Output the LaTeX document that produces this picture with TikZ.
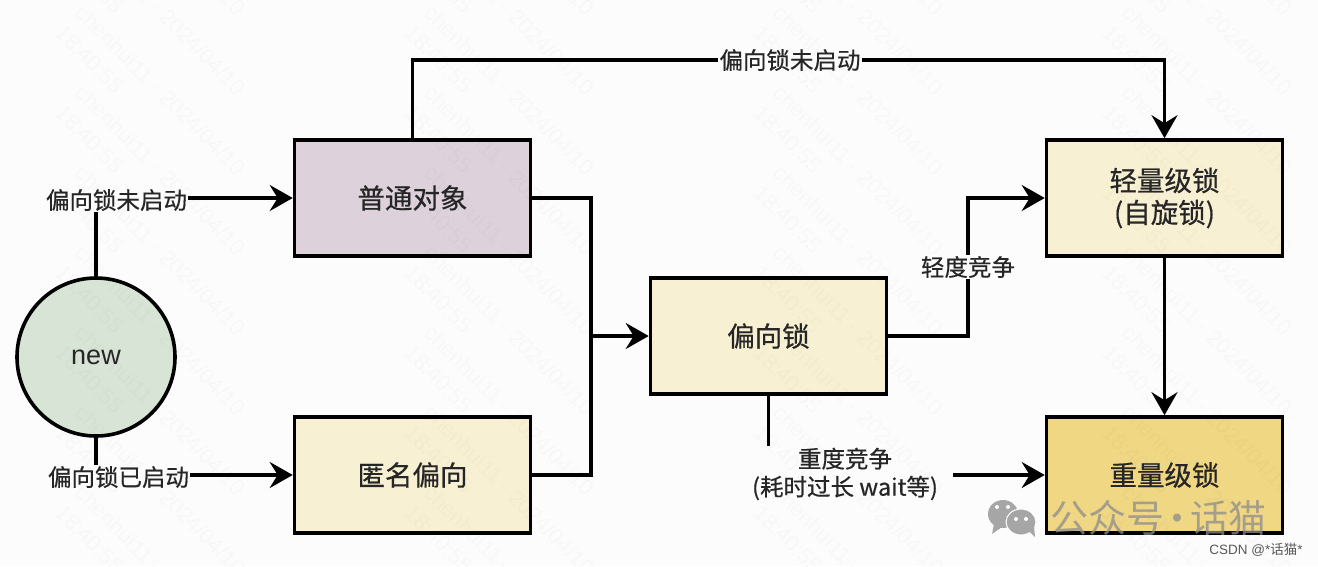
\documentclass[tikz,border=0pt]{standalone}
\usepackage{fontspec}
\setmainfont{Liberation Sans}
\newfontfamily\cjk[FakeBold=0.5]{Noto Sans CJK SC}
\newfontfamily\cjkthin{Noto Sans CJK SC}
\usepackage{tikz}
\usetikzlibrary{arrows.meta}
\definecolor{boxyellow}{HTML}{F8F0D2}
\definecolor{boxpurple}{HTML}{DDD1DC}
\definecolor{boxgold}{HTML}{F0D784}
\definecolor{circgreen}{HTML}{D8E4D5}
\definecolor{txtdark}{HTML}{262626}
\tikzset{
lockbox/.style={draw=black,line width=3.6pt,fill=boxyellow,minimum width=236pt,minimum height=116pt,inner sep=0pt,text=txtdark,font=\cjk\fontsize{27.5}{32}\selectfont,align=center},
lbl/.style={text=txtdark,inner sep=1pt,font=\cjk\fontsize{23.5}{28}\selectfont,align=center},
conn/.style={line width=3.4pt,draw=black},
arr/.style={conn,-{Stealth[length=23pt,width=26pt,inset=8pt]}},
wmark/.style={rotate=-45,anchor=north west,align=left,inner sep=0pt,text=black,opacity=.018,font=\fontsize{22}{28}\selectfont},
}
\begin{document}
\begin{tikzpicture}[x=1pt,y=-1pt]
\useasboundingbox[fill=white!99!black] (0,0) rectangle (1318,566);
\node[circle,draw=black,line width=3.6pt,fill=circgreen,minimum size=158pt,inner sep=0pt,text=txtdark,font=\fontsize{27}{30}\selectfont] (new) at (96,357) {\raisebox{-2pt}{new}};
\node[lockbox,fill=boxpurple] (plain) at (412.5,198) {普通对象};
\node[lockbox] (anon) at (412.5,475) {匿名偏向};
\node[lockbox] (biased) at (768.5,336) {偏向锁};
\node[lockbox] (light) at (1164.5,198) {轻量级锁\\(自旋锁)};
\node[lockbox,fill=boxgold] (heavy) at (1164.5,475) {重量级锁};
\node[lbl] (offa) at (116.5,200) {偏向锁未启动};
\node[lbl] (ona) at (118.5,477) {偏向锁已启动};
\node[lbl] (offb) at (790,60) {偏向锁未启动};
\node[lbl] (slight) at (968,267) {轻度竞争};
\node[lbl] (severe) at (845,474) {重度竞争\\(耗时过长 wait等)};
\coordinate (merge) at (591,336);
\coordinate (sevgo) at (953,475);
\coordinate (sevend) at (768.5,446);
\draw[conn] (new.north) -- (new.north |- offa.south);
\draw[conn] (new.south) -- (new.south |- ona.north);
\draw[arr] (offa.east |- plain.west) -- (plain.west);
\draw[arr] (ona.east |- anon.west) -- (anon.west);
\draw[conn] (plain.north) |- (offb.west);
\draw[arr] (offb.east) -| (light.north);
\draw[conn] (plain.east) -| (merge);
\draw[conn] (anon.east) -| (merge);
\draw[arr] (merge) -- (biased.west);
\draw[conn] (biased.east) -| (slight.south);
\draw[arr] (slight.north) |- (light.west);
\draw[arr] (light.south) -- (heavy.north);
\draw[conn] (biased.south) -- (sevend);
\draw[arr] (sevgo) -- (heavy.west);
% faint watermark
\foreach \i in {-1,0,1,2,3,4}
\foreach \j in {-3,...,7}
\node[wmark] (wm\i\j) at (85+349*\i,3+80*\j) {chenhui11 - 2024/04/10\\18:40:55};
% logo
\node[text=black!45,opacity=.75,font=\cjkthin\fontsize{38}{42}\selectfont,inner sep=0pt] (mark) at (1158,518) {公众号\makebox[26pt]{·}话猫};
\fill[black!35] (1003,514) circle [x radius=15,y radius=14];
\fill[black!35] (994,524) -- (992,534) -- (1002,527) -- cycle;
\fill[black!35,draw=white,line width=1pt] (1021,522) circle [x radius=15,y radius=13];
\fill[black!35] (1028,530) -- (1035,537) -- (1034,526) -- cycle;
\fill[white] (997,507) circle [radius=2] (1008,507) circle [radius=2] (1016,519) circle [radius=2] (1026,519) circle [radius=2];
\node[text=black!65,font=\fontsize{13.5}{16}\selectfont,inner sep=0pt] (csdn) at (1256,550) {CSDN @*{\cjkthin 话猫}*};
\end{tikzpicture}
\end{document}
